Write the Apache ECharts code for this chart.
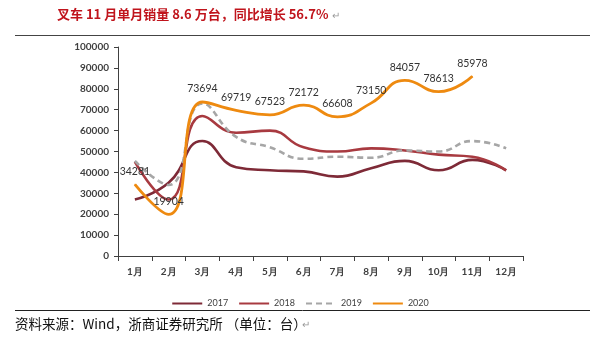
<!DOCTYPE html>
<html><head><meta charset="utf-8">
<script src="https://cdn.jsdelivr.net/npm/echarts@6/dist/echarts.min.js"></script>
<style>html,body{margin:0;padding:0;background:#fff}#c{width:600px;height:338px}</style>
</head><body><div id="c"></div>
<script>
const months = ['1月','2月','3月','4月','5月','6月','7月','8月','9月','10月','11月','12月'];
const s2017 = [27000, 35000, 55000, 42500, 41000, 40500, 38000, 42000, 45500, 41000, 46000, 41000];
const s2018 = [45000, 27000, 67000, 59000, 60000, 52000, 50000, 51500, 50500, 48500, 47500, 41000];
const s2019 = [45500, 34000, 73000, 57000, 52000, 46500, 47500, 47000, 50500, 50000, 55000, 51500];
const s2020 = [34281, 19904, 73694, 69719, 67523, 72172, 66608, 73150, 84057, 78613, 85978];
const yTicks = [0, 10000, 20000, 30000, 40000, 50000, 60000, 70000, 80000, 90000, 100000];
const titleText = '叉车 11 月单月销量 8.6 万台，同比增长 56.7%';
const sourceText = '资料来源：Wind，浙商证券研究所 （单位：台）';

const chart = echarts.init(document.getElementById('c'));
const axisFont = {fontFamily:'Lato', fontWeight:'bold', fontSize:10, color:'#404040'};
function line(name, data, color, dashed){
  return {name, type:'line', data, smooth:0.5, symbol:'none',
    lineStyle:{color, width:2.6, type: dashed ? [6,4] : 'solid'},
    itemStyle:{color}, z: 2};
}
chart.setOption({
  animation:false,
  grid:{left:118, right:77, top:47, bottom:82},
  xAxis:{type:'category', data:months, boundaryGap:true,
    axisLine:{lineStyle:{color:'#404040', width:1}},
    axisTick:{show:true, length:5, lineStyle:{color:'#404040'}},
    axisLabel:Object.assign({margin:11}, axisFont)},
  yAxis:{type:'value', min:yTicks[0], max:yTicks[yTicks.length-1], interval:yTicks[1]-yTicks[0],
    axisLine:{show:true, lineStyle:{color:'#404040', width:1}},
    axisTick:{show:true, inside:false, length:4, lineStyle:{color:'#404040'}},
    splitLine:{show:false},
    axisLabel:Object.assign({margin:9, formatter:v => String(v)}, axisFont)},
  legend:{bottom:25, left:'center', itemWidth:30, itemHeight:8, itemGap:10,
    itemStyle:{opacity:0},
    textStyle:{fontFamily:'Lato', fontSize:9, color:'#404040'},
    data:['2017','2018','2019','2020']},
  series:[
    line('2017', s2017, '#7E2A37', false),
    line('2018', s2018, '#A83A40', false),
    line('2019', s2019, '#A6A6A6', true),
    Object.assign(line('2020', s2020, '#EE8A10', false), {
      symbol:'circle', symbolSize:1, showSymbol:true,
      lineStyle:{color:'#EE8A10', width:2.8},
      label:{show:true, position:'top', distance:7, fontFamily:'Lato', fontSize:10.5, color:'#333'}
    })
  ],
  graphic:[
    {type:'text', left:57, top:8, style:{text:titleText, fontFamily:'Noto Sans CJK SC', fontWeight:'bold', fontSize:13, fill:'#C0141C'}},
    {type:'text', left:332, top:11, style:{text:'↵', fontSize:10, fill:'#999'}},
    {type:'line', shape:{x1:15, y1:35.5, x2:590, y2:35.5}, style:{stroke:'#444', lineWidth:1.2}},
    {type:'line', shape:{x1:15, y1:310.5, x2:590, y2:310.5}, style:{stroke:'#222', lineWidth:1}},
    {type:'text', left:15, top:317, style:{text:sourceText, fontFamily:'Noto Sans CJK SC', fontSize:13.5, fill:'#111'}},
    {type:'text', left:302, top:320, style:{text:'↵', fontSize:10, fill:'#999'}}
  ]
});
</script></body></html>
